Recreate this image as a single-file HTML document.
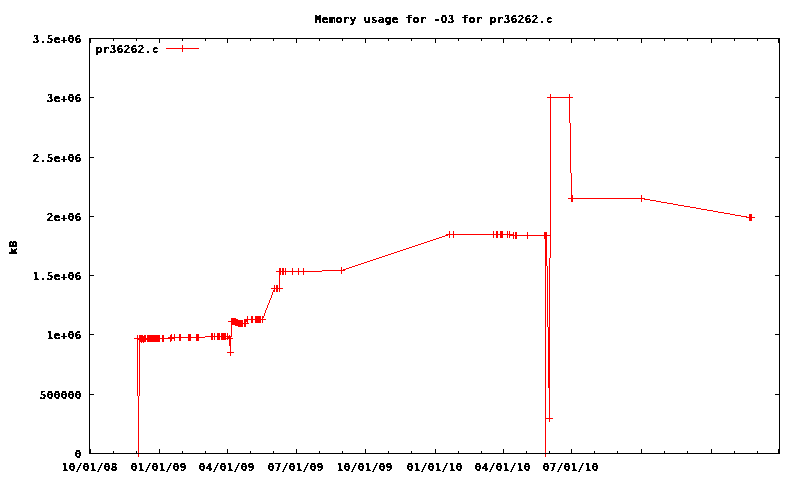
<!DOCTYPE html>
<html lang="en"><head><meta charset="utf-8"><title>Memory usage for -O3 for pr36262.c</title>
<style>
html,body{margin:0;padding:0;background:#fff;overflow:hidden}
svg{display:block}
text{font-family:"DejaVu Sans Mono","Liberation Mono",monospace;font-weight:bold;font-size:11px;fill:#000;stroke:#000;stroke-width:0.25px;white-space:pre}
</style></head><body>
<svg width="800" height="480" viewBox="0 0 800 480">
<rect width="800" height="480" fill="#fff"/>
<path shape-rendering="crispEdges" fill="#f00" d="M134 338h41v1h-41zM135 453h7v1h-7zM137 335h1v3h-1zM137 340h1v56h-1zM137 339h23v1h-23zM138 396h1v57h-1zM138 454h1v3h-1zM139 342h1v54h-1zM139 335h4v1h-4zM139 336h7v2h-7zM139 340h7v2h-7zM141 342h1v1h-1zM143 342h1v1h-1zM144 335h2v1h-2zM147 335h13v3h-13zM147 340h13v2h-13zM162 335h2v3h-2zM162 339h2v3h-2zM166 48h33v1h-33zM168 337h37v1h-37zM170 341h1v1h-1zM170 335h2v2h-2zM170 339h2v2h-2zM171 334h1v1h-1zM174 334h1v3h-1zM174 339h1v2h-1zM179 334h2v3h-2zM179 338h2v3h-2zM182 45h1v3h-1zM182 49h1v3h-1zM188 334h3v3h-3zM188 338h3v3h-3zM196 334h3v3h-3zM196 338h3v3h-3zM205 336h27v1h-27zM211 333h2v3h-2zM211 337h2v3h-2zM214 333h1v3h-1zM214 337h1v3h-1zM217 333h3v3h-3zM217 337h3v3h-3zM221 333h5v3h-5zM221 337h5v1h-5zM221 339h5v1h-5zM221 338h12v1h-12zM227 333h1v3h-1zM227 339h1v1h-1zM227 337h4v1h-4zM227 352h7v1h-7zM228 321h15v1h-15zM229 335h1v1h-1zM229 339h2v7h-2zM230 346h1v6h-1zM230 353h1v3h-1zM231 325h1v11h-1zM231 318h5v1h-5zM231 319h7v1h-7zM231 320h12v1h-12zM231 322h12v1h-12zM231 324h12v1h-12zM231 323h18v1h-18zM235 325h8v1h-8zM238 326h5v1h-5zM244 322h2v1h-2zM244 324h2v3h-2zM244 320h4v2h-4zM244 319h22v1h-22zM247 316h1v3h-1zM247 322h1v1h-1zM251 316h2v3h-2zM251 320h2v3h-2zM255 316h6v3h-6zM255 320h6v3h-6zM262 318h1v1h-1zM262 320h1v3h-1zM262 316h2v2h-2zM264 313h1v3h-1zM265 310h1v3h-1zM266 308h1v2h-1zM267 305h1v3h-1zM268 303h1v2h-1zM269 300h1v3h-1zM270 298h1v2h-1zM271 295h1v3h-1zM271 288h12v1h-12zM272 292h1v3h-1zM273 290h2v2h-2zM274 285h1v3h-1zM274 289h1v1h-1zM276 285h2v3h-2zM276 289h2v3h-2zM276 271h46v1h-46zM279 275h1v13h-1zM279 289h1v3h-1zM279 268h2v3h-2zM279 272h2v3h-2zM282 268h2v3h-2zM282 272h2v3h-2zM285 268h1v3h-1zM285 272h1v3h-1zM292 268h1v3h-1zM292 272h1v3h-1zM298 268h1v3h-1zM298 272h1v3h-1zM303 268h1v3h-1zM303 272h1v3h-1zM322 270h23v1h-23zM341 267h1v3h-1zM341 271h1v3h-1zM343 269h3v1h-3zM346 268h3v1h-3zM349 267h3v1h-3zM352 266h3v1h-3zM355 265h3v1h-3zM358 264h3v1h-3zM361 263h3v1h-3zM364 262h3v1h-3zM367 261h3v1h-3zM370 260h3v1h-3zM373 259h3v1h-3zM376 258h3v1h-3zM379 257h3v1h-3zM382 256h3v1h-3zM385 255h3v1h-3zM388 254h3v1h-3zM391 253h3v1h-3zM394 252h3v1h-3zM397 251h3v1h-3zM400 250h3v1h-3zM403 249h3v1h-3zM406 248h3v1h-3zM409 247h3v1h-3zM412 246h3v1h-3zM415 245h3v1h-3zM418 244h3v1h-3zM421 243h3v1h-3zM424 242h3v1h-3zM427 241h3v1h-3zM430 240h3v1h-3zM433 239h3v1h-3zM436 238h3v1h-3zM439 237h3v1h-3zM442 236h3v1h-3zM445 235h3v1h-3zM446 234h68v1h-68zM449 231h1v3h-1zM449 235h1v3h-1zM453 231h1v3h-1zM453 235h1v3h-1zM493 231h1v3h-1zM493 235h1v3h-1zM496 231h2v3h-2zM496 235h2v3h-2zM500 231h3v3h-3zM500 235h3v3h-3zM507 231h1v3h-1zM507 235h1v3h-1zM509 231h1v3h-1zM509 236h1v2h-1zM509 235h42v1h-42zM513 232h1v2h-1zM513 236h1v3h-1zM515 232h2v3h-2zM515 236h2v3h-2zM527 232h1v3h-1zM527 236h1v3h-1zM542 453h7v1h-7zM544 232h3v3h-3zM544 236h3v3h-3zM545 266h1v152h-1zM545 419h1v34h-1zM545 454h1v3h-1zM545 239h2v27h-2zM545 418h8v1h-8zM547 266h1v61h-1zM547 97h26v1h-26zM548 327h2v61h-2zM549 258h1v69h-1zM549 388h1v30h-1zM549 419h1v3h-1zM550 94h1v3h-1zM550 98h1v137h-1zM550 236h1v22h-1zM568 198h77v1h-77zM569 94h1v3h-1zM569 98h1v25h-1zM570 123h1v50h-1zM571 173h1v22h-1zM571 195h2v3h-2zM571 199h2v3h-2zM641 195h1v3h-1zM641 199h1v3h-1zM644 199h6v1h-6zM650 200h6v1h-6zM656 201h5v1h-5zM661 202h6v1h-6zM667 203h6v1h-6zM673 204h5v1h-5zM678 205h6v1h-6zM684 206h6v1h-6zM690 207h6v1h-6zM696 208h5v1h-5zM701 209h6v1h-6zM707 210h6v1h-6zM713 211h5v1h-5zM718 212h6v1h-6zM724 213h6v1h-6zM730 214h5v1h-5zM735 215h6v1h-6zM741 216h6v1h-6zM746 217h9v1h-9zM749 214h3v3h-3zM749 218h3v3h-3z"/>
<path shape-rendering="crispEdges" fill="#000" d="M89 43h1v54h-1zM89 98h1v59h-1zM89 158h1v58h-1zM89 217h1v58h-1zM89 276h1v58h-1zM89 335h1v59h-1zM89 395h1v54h-1zM89 39h2v4h-2zM89 449h2v4h-2zM89 97h5v1h-5zM89 157h5v1h-5zM89 216h5v1h-5zM89 275h5v1h-5zM89 334h5v1h-5zM89 394h5v1h-5zM89 38h691v1h-691zM89 453h691v1h-691zM113 39h1v2h-1zM113 451h1v2h-1zM136 39h1v2h-1zM136 451h1v2h-1zM159 39h1v4h-1zM159 449h1v4h-1zM182 39h1v2h-1zM182 451h1v2h-1zM205 39h1v2h-1zM205 451h1v2h-1zM227 39h1v4h-1zM227 449h1v4h-1zM250 39h1v2h-1zM250 451h1v2h-1zM273 39h1v2h-1zM273 451h1v2h-1zM296 39h1v4h-1zM296 449h1v4h-1zM319 39h1v2h-1zM319 451h1v2h-1zM342 39h1v2h-1zM342 451h1v2h-1zM365 39h1v4h-1zM365 449h1v4h-1zM388 39h1v2h-1zM388 451h1v2h-1zM411 39h1v2h-1zM411 451h1v2h-1zM435 39h1v4h-1zM435 449h1v4h-1zM458 39h1v2h-1zM458 451h1v2h-1zM481 39h1v2h-1zM481 451h1v2h-1zM503 39h1v4h-1zM503 449h1v4h-1zM526 39h1v2h-1zM526 451h1v2h-1zM549 39h1v2h-1zM549 451h1v2h-1zM571 39h1v4h-1zM571 449h1v4h-1zM594 39h1v2h-1zM594 451h1v2h-1zM617 39h1v2h-1zM617 451h1v2h-1zM641 39h1v4h-1zM641 449h1v4h-1zM664 39h1v2h-1zM664 451h1v2h-1zM687 39h1v2h-1zM687 451h1v2h-1zM711 39h1v4h-1zM711 449h1v4h-1zM734 39h1v2h-1zM734 451h1v2h-1zM757 39h1v2h-1zM757 451h1v2h-1zM775 97h5v1h-5zM775 157h5v1h-5zM775 216h5v1h-5zM775 275h5v1h-5zM775 334h5v1h-5zM775 394h5v1h-5zM778 39h2v4h-2zM778 449h2v4h-2zM779 43h1v54h-1zM779 98h1v59h-1zM779 158h1v58h-1zM779 217h1v58h-1zM779 276h1v58h-1zM779 335h1v59h-1zM779 395h1v54h-1z"/>
<defs><filter id="px" x="0" y="0" width="100%" height="100%" filterUnits="userSpaceOnUse" color-interpolation-filters="sRGB"><feComponentTransfer><feFuncA type="discrete" tableValues="0 1"/></feComponentTransfer></filter></defs>
<g filter="url(#px)">
<text x="314.780 321.780 328.780 335.780 342.780 349.780 356.780 363.780 370.780 377.780 384.780 391.780 398.780 405.780 412.780 419.780 426.780 433.780 440.780 447.780 454.780 461.780 468.780 475.780 482.780 489.780 496.780 503.780 510.780 517.780 524.780 531.780 538.780 545.780" y="23.0">Memory usage for -O3 for pr36262.c</text>
<text x="95.780 102.780 109.780 116.780 123.780 130.780 137.780 144.780 151.780" y="53.0">pr36262.c</text>
<text x="74.780" y="458.0">0</text>
<text x="39.780 46.780 53.780 60.780 67.780 74.780" y="399.0">500000</text>
<text x="46.780 53.780 60.780 67.780 74.780" y="339.0">1e+06</text>
<text x="32.780 39.780 46.780 53.780 60.780 67.780 74.780" y="280.0">1.5e+06</text>
<text x="46.780 53.780 60.780 67.780 74.780" y="221.0">2e+06</text>
<text x="32.780 39.780 46.780 53.780 60.780 67.780 74.780" y="162.0">2.5e+06</text>
<text x="46.780 53.780 60.780 67.780 74.780" y="102.0">3e+06</text>
<text x="32.780 39.780 46.780 53.780 60.780 67.780 74.780" y="43.0">3.5e+06</text>
<text x="61.780 68.780 75.780 82.780 89.780 96.780 103.780 110.780" y="471.0">10/01/08</text>
<text x="130.780 137.780 144.780 151.780 158.780 165.780 172.780 179.780" y="471.0">01/01/09</text>
<text x="198.780 205.780 212.780 219.780 226.780 233.780 240.780 247.780" y="471.0">04/01/09</text>
<text x="267.780 274.780 281.780 288.780 295.780 302.780 309.780 316.780" y="471.0">07/01/09</text>
<text x="336.780 343.780 350.780 357.780 364.780 371.780 378.780 385.780" y="471.0">10/01/09</text>
<text x="406.780 413.780 420.780 427.780 434.780 441.780 448.780 455.780" y="471.0">01/01/10</text>
<text x="474.780 481.780 488.780 495.780 502.780 509.780 516.780 523.780" y="471.0">04/01/10</text>
<text x="542.780 549.780 556.780 563.780 570.780 577.780 584.780 591.780" y="471.0">07/01/10</text>
<g transform="translate(17.0,254.1) rotate(-90)"><text x="-0.220 6.780" y="0" style="stroke-width:0.35px">kB</text></g>
</g>
</svg>
</body></html>
